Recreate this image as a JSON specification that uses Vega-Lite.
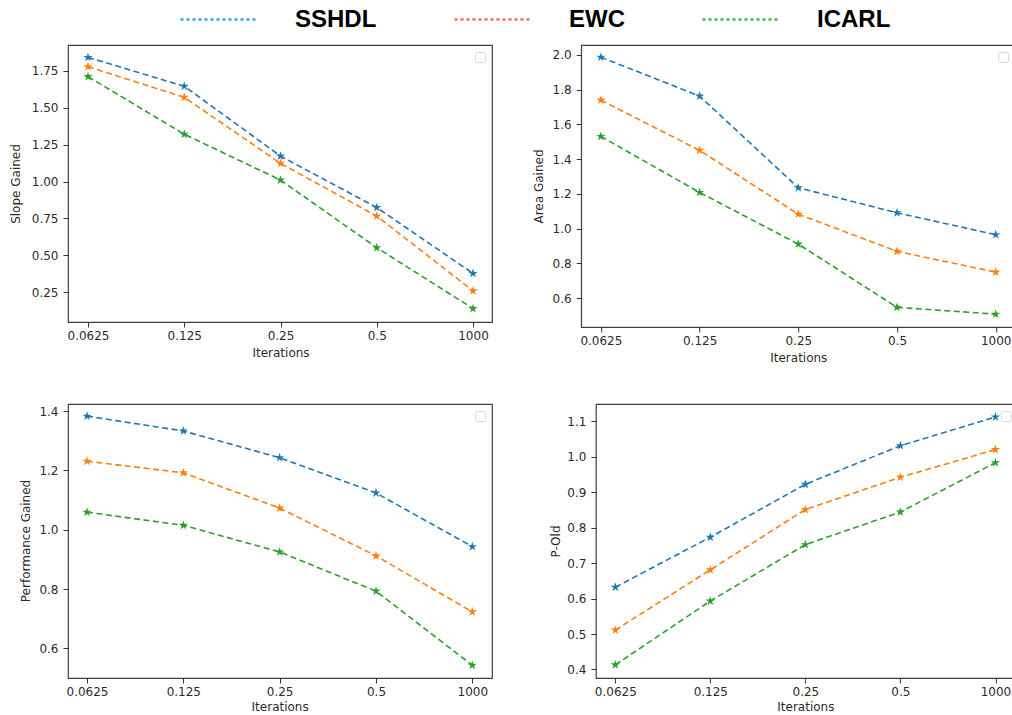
{
  "$schema": "https://vega.github.io/schema/vega-lite/v6.json",
  "background": "white",
  "padding": {"left": 8, "top": -21, "right": -7, "bottom": 0},
  "datasets": {
    "d": [
      {"p": "slope", "iter": "0.0625", "series": "SSHDL", "value": 1.84},
      {"p": "slope", "iter": "0.125", "series": "SSHDL", "value": 1.645},
      {"p": "slope", "iter": "0.25", "series": "SSHDL", "value": 1.172},
      {"p": "slope", "iter": "0.5", "series": "SSHDL", "value": 0.824},
      {"p": "slope", "iter": "1000", "series": "SSHDL", "value": 0.378},
      {"p": "slope", "iter": "0.0625", "series": "EWC", "value": 1.777},
      {"p": "slope", "iter": "0.125", "series": "EWC", "value": 1.57},
      {"p": "slope", "iter": "0.25", "series": "EWC", "value": 1.123},
      {"p": "slope", "iter": "0.5", "series": "EWC", "value": 0.766},
      {"p": "slope", "iter": "1000", "series": "EWC", "value": 0.26},
      {"p": "slope", "iter": "0.0625", "series": "ICARL", "value": 1.71},
      {"p": "slope", "iter": "0.125", "series": "ICARL", "value": 1.32},
      {"p": "slope", "iter": "0.25", "series": "ICARL", "value": 1.01},
      {"p": "slope", "iter": "0.5", "series": "ICARL", "value": 0.552},
      {"p": "slope", "iter": "1000", "series": "ICARL", "value": 0.14},
      {"p": "area", "iter": "0.0625", "series": "SSHDL", "value": 1.986},
      {"p": "area", "iter": "0.125", "series": "SSHDL", "value": 1.762},
      {"p": "area", "iter": "0.25", "series": "SSHDL", "value": 1.235},
      {"p": "area", "iter": "0.5", "series": "SSHDL", "value": 1.091},
      {"p": "area", "iter": "1000", "series": "SSHDL", "value": 0.965},
      {"p": "area", "iter": "0.0625", "series": "EWC", "value": 1.739},
      {"p": "area", "iter": "0.125", "series": "EWC", "value": 1.45},
      {"p": "area", "iter": "0.25", "series": "EWC", "value": 1.083},
      {"p": "area", "iter": "0.5", "series": "EWC", "value": 0.869},
      {"p": "area", "iter": "1000", "series": "EWC", "value": 0.75},
      {"p": "area", "iter": "0.0625", "series": "ICARL", "value": 1.53},
      {"p": "area", "iter": "0.125", "series": "ICARL", "value": 1.208},
      {"p": "area", "iter": "0.25", "series": "ICARL", "value": 0.911},
      {"p": "area", "iter": "0.5", "series": "ICARL", "value": 0.547},
      {"p": "area", "iter": "1000", "series": "ICARL", "value": 0.508},
      {"p": "perf", "iter": "0.0625", "series": "SSHDL", "value": 1.383},
      {"p": "perf", "iter": "0.125", "series": "SSHDL", "value": 1.333},
      {"p": "perf", "iter": "0.25", "series": "SSHDL", "value": 1.243},
      {"p": "perf", "iter": "0.5", "series": "SSHDL", "value": 1.124},
      {"p": "perf", "iter": "1000", "series": "SSHDL", "value": 0.943},
      {"p": "perf", "iter": "0.0625", "series": "EWC", "value": 1.231},
      {"p": "perf", "iter": "0.125", "series": "EWC", "value": 1.192},
      {"p": "perf", "iter": "0.25", "series": "EWC", "value": 1.073},
      {"p": "perf", "iter": "0.5", "series": "EWC", "value": 0.912},
      {"p": "perf", "iter": "1000", "series": "EWC", "value": 0.723},
      {"p": "perf", "iter": "0.0625", "series": "ICARL", "value": 1.059},
      {"p": "perf", "iter": "0.125", "series": "ICARL", "value": 1.015},
      {"p": "perf", "iter": "0.25", "series": "ICARL", "value": 0.925},
      {"p": "perf", "iter": "0.5", "series": "ICARL", "value": 0.793},
      {"p": "perf", "iter": "1000", "series": "ICARL", "value": 0.543},
      {"p": "pold", "iter": "0.0625", "series": "SSHDL", "value": 0.632},
      {"p": "pold", "iter": "0.125", "series": "SSHDL", "value": 0.773},
      {"p": "pold", "iter": "0.25", "series": "SSHDL", "value": 0.922},
      {"p": "pold", "iter": "0.5", "series": "SSHDL", "value": 1.031},
      {"p": "pold", "iter": "1000", "series": "SSHDL", "value": 1.112},
      {"p": "pold", "iter": "0.0625", "series": "EWC", "value": 0.511},
      {"p": "pold", "iter": "0.125", "series": "EWC", "value": 0.681},
      {"p": "pold", "iter": "0.25", "series": "EWC", "value": 0.851},
      {"p": "pold", "iter": "0.5", "series": "EWC", "value": 0.942},
      {"p": "pold", "iter": "1000", "series": "EWC", "value": 1.02},
      {"p": "pold", "iter": "0.0625", "series": "ICARL", "value": 0.413},
      {"p": "pold", "iter": "0.125", "series": "ICARL", "value": 0.593},
      {"p": "pold", "iter": "0.25", "series": "ICARL", "value": 0.752},
      {"p": "pold", "iter": "0.5", "series": "ICARL", "value": 0.844},
      {"p": "pold", "iter": "1000", "series": "ICARL", "value": 0.983}
    ]
  },
  "resolve": {"scale": {"shape": "independent"}, "legend": {"shape": "independent"}},
  "spacing": 39,
  "vconcat": [
    {
      "spacing": 39.2,
      "resolve": {"scale": {"shape": "independent"}, "legend": {"shape": "independent"}},
      "hconcat": [
        {
          "width": 424, "height": 277,
          "data": {"name": "d"},
          "transform": [{"filter": "datum.p == 'slope'"}],
          "encoding": {
            "x": {"field": "iter", "type": "ordinal", "sort": ["0.0625", "0.125", "0.25", "0.5", "1000"], "scale": {"type": "point", "range": [20, 405], "padding": 0}, "axis": {"title": "Iterations"}},
            "y": {"field": "value", "type": "quantitative", "scale": {"domain": [0.049, 1.924], "nice": false, "zero": false}, "axis": {"title": "Slope Gained", "values": [0.25, 0.5, 0.75, 1.0, 1.25, 1.5, 1.75], "format": ".2f", "titlePadding": 8.9}}
          },
          "layer": [
            {"mark": {"type": "line", "strokeDash": [6, 3.5], "strokeWidth": 1.6}, "encoding": {"color": {"field": "series", "type": "nominal", "scale": {"domain": ["SSHDL", "EWC", "ICARL"], "range": ["#1f77b4", "#ff7f0e", "#2ca02c"]}, "legend": null}}},
            {"mark": {"type": "point", "shape": "M0,-1L0.2245,-0.309L0.9511,-0.309L0.3633,0.118L0.5878,0.809L0,0.382L-0.5878,0.809L-0.3633,0.118L-0.9511,-0.309L-0.2245,-0.309Z", "filled": true, "size": 95, "opacity": 1}, "encoding": {"color": {"field": "series", "type": "nominal", "legend": null}}},
            {"mark": {"type": "point", "opacity": 0}, "encoding": {"shape": {"field": "series", "type": "nominal", "legend": {"values": ["SSHDL"], "title": null, "orient": "top-right", "offset": 7, "padding": 4.5, "labelExpr": "''", "labelFontSize": 1, "labelOffset": 0, "symbolSize": 1, "symbolOpacity": 0, "symbolStrokeWidth": 0, "fillColor": "white", "strokeColor": "#d6d6d6", "cornerRadius": 2}}}},
            {"mark": {"type": "line", "opacity": 0}, "encoding": {"stroke": {"field": "series", "type": "nominal", "sort": ["SSHDL", "EWC", "ICARL"], "scale": {"range": ["#2ea8f2", "#ff6464", "#3cba3c"]}, "legend": {"title": null, "orient": "none", "legendX": 111, "legendY": -65.5, "direction": "horizontal", "symbolType": "stroke", "symbolSize": 5929, "symbolStrokeWidth": 2.5, "symbolDash": [3, 3], "symbolOpacity": 1, "labelFont": "Liberation Sans", "labelFontSize": 24, "labelFontWeight": "bold", "labelColor": "#000000", "labelOffset": 36, "columnPadding": 72, "padding": 0, "labelBaseline": "middle", "labelLimit": 300}}}}
          ]
        },
        {
          "width": 434, "height": 282,
          "data": {"name": "d"},
          "transform": [{"filter": "datum.p == 'area'"}],
          "encoding": {
            "x": {"field": "iter", "type": "ordinal", "sort": ["0.0625", "0.125", "0.25", "0.5", "1000"], "scale": {"type": "point", "range": [19.7, 414.5], "padding": 0}, "axis": {"title": "Iterations"}},
            "y": {"field": "value", "type": "quantitative", "scale": {"domain": [0.434, 2.056], "nice": false, "zero": false}, "axis": {"title": "Area Gained", "values": [0.6, 0.8, 1.0, 1.2, 1.4, 1.6, 1.8, 2.0], "format": ".1f", "titlePadding": 6.2}}
          },
          "layer": [
            {"mark": {"type": "line", "strokeDash": [6, 3.5], "strokeWidth": 1.6}, "encoding": {"color": {"field": "series", "type": "nominal", "legend": null}}},
            {"mark": {"type": "point", "shape": "M0,-1L0.2245,-0.309L0.9511,-0.309L0.3633,0.118L0.5878,0.809L0,0.382L-0.5878,0.809L-0.3633,0.118L-0.9511,-0.309L-0.2245,-0.309Z", "filled": true, "size": 95, "opacity": 1}, "encoding": {"color": {"field": "series", "type": "nominal", "legend": null}}},
            {"mark": {"type": "point", "opacity": 0}, "encoding": {"shape": {"field": "series", "type": "nominal", "legend": {"values": ["SSHDL"], "title": null, "orient": "top-right", "offset": 7, "padding": 4.5, "labelExpr": "''", "labelFontSize": 1, "labelOffset": 0, "symbolSize": 1, "symbolOpacity": 0, "symbolStrokeWidth": 0, "fillColor": "white", "strokeColor": "#d6d6d6", "cornerRadius": 2}}}}
          ]
        }
      ]
    },
    {
      "spacing": 54.9,
      "resolve": {"scale": {"shape": "independent"}, "legend": {"shape": "independent"}},
      "hconcat": [
        {
          "width": 424, "height": 274,
          "data": {"name": "d"},
          "transform": [{"filter": "datum.p == 'perf'"}],
          "encoding": {
            "x": {"field": "iter", "type": "ordinal", "sort": ["0.0625", "0.125", "0.25", "0.5", "1000"], "scale": {"type": "point", "range": [19, 404.3], "padding": 0}, "axis": {"title": "Iterations", "titlePadding": 3.5}},
            "y": {"field": "value", "type": "quantitative", "scale": {"domain": [0.5, 1.424], "nice": false, "zero": false}, "axis": {"title": "Performance Gained", "values": [0.6, 0.8, 1.0, 1.2, 1.4], "format": ".1f", "titleX": -35.4, "titleY": 136.5}}
          },
          "layer": [
            {"mark": {"type": "line", "strokeDash": [6, 3.5], "strokeWidth": 1.6}, "encoding": {"color": {"field": "series", "type": "nominal", "legend": null}}},
            {"mark": {"type": "point", "shape": "M0,-1L0.2245,-0.309L0.9511,-0.309L0.3633,0.118L0.5878,0.809L0,0.382L-0.5878,0.809L-0.3633,0.118L-0.9511,-0.309L-0.2245,-0.309Z", "filled": true, "size": 95, "opacity": 1}, "encoding": {"color": {"field": "series", "type": "nominal", "legend": null}}},
            {"mark": {"type": "point", "opacity": 0}, "encoding": {"shape": {"field": "series", "type": "nominal", "legend": {"values": ["SSHDL"], "title": null, "orient": "top-right", "offset": 7, "padding": 4.5, "labelExpr": "''", "labelFontSize": 1, "labelOffset": 0, "symbolSize": 1, "symbolOpacity": 0, "symbolStrokeWidth": 0, "fillColor": "white", "strokeColor": "#d6d6d6", "cornerRadius": 2}}}}
          ]
        },
        {
          "width": 422, "height": 274,
          "data": {"name": "d"},
          "transform": [{"filter": "datum.p == 'pold'"}],
          "encoding": {
            "x": {"field": "iter", "type": "ordinal", "sort": ["0.0625", "0.125", "0.25", "0.5", "1000"], "scale": {"type": "point", "range": [19.4, 399.5], "padding": 0}, "axis": {"title": "Iterations", "titlePadding": 3.5}},
            "y": {"field": "value", "type": "quantitative", "scale": {"domain": [0.376, 1.1485], "nice": false, "zero": false}, "axis": {"title": "P-Old", "values": [0.4, 0.5, 0.6, 0.7, 0.8, 0.9, 1.0, 1.1], "format": ".1f", "titlePadding": 4.5}}
          },
          "layer": [
            {"mark": {"type": "line", "strokeDash": [6, 3.5], "strokeWidth": 1.6}, "encoding": {"color": {"field": "series", "type": "nominal", "legend": null}}},
            {"mark": {"type": "point", "shape": "M0,-1L0.2245,-0.309L0.9511,-0.309L0.3633,0.118L0.5878,0.809L0,0.382L-0.5878,0.809L-0.3633,0.118L-0.9511,-0.309L-0.2245,-0.309Z", "filled": true, "size": 95, "opacity": 1}, "encoding": {"color": {"field": "series", "type": "nominal", "legend": null}}},
            {"mark": {"type": "point", "opacity": 0}, "encoding": {"shape": {"field": "series", "type": "nominal", "legend": {"values": ["SSHDL"], "title": null, "orient": "top-right", "offset": 7, "padding": 4.5, "labelExpr": "''", "labelFontSize": 1, "labelOffset": 0, "symbolSize": 1, "symbolOpacity": 0, "symbolStrokeWidth": 0, "fillColor": "white", "strokeColor": "#d6d6d6", "cornerRadius": 2}}}}
          ]
        }
      ]
    }
  ],
  "config": {
    "font": "DejaVu Sans",
    "view": {"stroke": "#404040", "strokeWidth": 1.2},
    "axis": {"grid": false, "domain": false, "tickSize": 5, "tickColor": "#333333", "tickWidth": 1, "labelFont": "DejaVu Sans", "labelFontSize": 12, "labelColor": "#2b2b2b", "labelOverlap": false, "titleFont": "DejaVu Sans", "titleFontSize": 12, "titleFontWeight": "normal", "titleColor": "#2b2b2b"},
    "axisX": {"labelPadding": 3.6, "titlePadding": 5.8, "labelAngle": 0},
    "axisY": {"labelPadding": 5}
  }
}
